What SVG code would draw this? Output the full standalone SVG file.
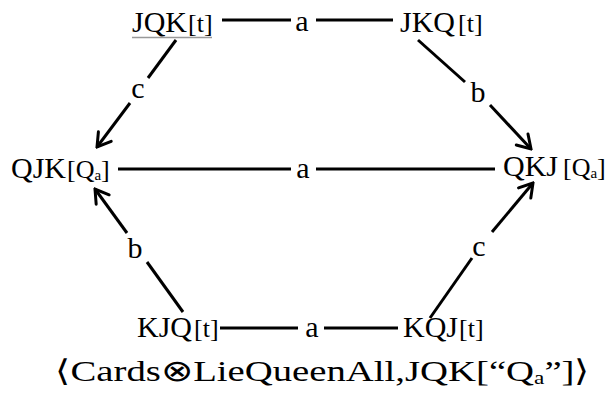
<svg xmlns="http://www.w3.org/2000/svg" width="609" height="395" viewBox="0 0 609 395">
<defs>
<style>
text{font-family:"Liberation Serif","Times New Roman",serif;fill:#000}
.n{font-size:30px}
.b{font-size:26px}
.s{font-size:15px}
.l{font-size:30px;text-anchor:middle}
.e{stroke:#000;stroke-width:3;fill:none}
</style>
<marker id="ah" viewBox="-16 -10 18 20" refX="0" refY="0" markerWidth="18" markerHeight="20" markerUnits="userSpaceOnUse" orient="auto">
<path d="M-13,-8 L0,0 L-13,8" stroke="#000" stroke-width="3" fill="none" stroke-linecap="round" stroke-linejoin="miter"/>
</marker>
</defs>
<rect width="609" height="395" fill="#fff"/>
<g id="connectors">
<line class="e" x1="222" y1="20" x2="291" y2="20"/>
<line class="e" x1="316" y1="20" x2="393" y2="20"/>
<text class="l" x="302" y="31">a</text>
<line class="e" x1="118" y1="169" x2="291" y2="169"/>
<line class="e" x1="316" y1="169" x2="495" y2="169"/>
<text class="l" x="303" y="178">a</text>
<line class="e" x1="220" y1="328" x2="298" y2="328"/>
<line class="e" x1="324" y1="328" x2="398" y2="328"/>
<text class="l" x="312" y="337">a</text>
<line class="e" x1="176" y1="40" x2="148" y2="78"/>
<line class="e" x1="130" y1="103" x2="97" y2="147" marker-end="url(#ah)"/>
<text class="l" x="138" y="98">c</text>
<line class="e" x1="418" y1="40" x2="465" y2="82"/>
<line class="e" x1="490" y1="105" x2="531" y2="149" marker-end="url(#ah)"/>
<text class="l" x="478" y="102">b</text>
<line class="e" x1="183" y1="312" x2="147" y2="262"/>
<line class="e" x1="127" y1="233" x2="95" y2="189" marker-end="url(#ah)"/>
<text class="l" x="135" y="258">b</text>
<line class="e" x1="430" y1="318" x2="472" y2="258"/>
<line class="e" x1="492" y1="232" x2="533" y2="183" marker-end="url(#ah)"/>
<text class="l" x="479" y="256">c</text>
</g>
<g id="n_jqk">
<text class="n" x="132" y="32">JQK</text>
<text class="b" x="188" y="32">[t]</text>
<line x1="132" y1="37.5" x2="212" y2="37.5" stroke="#999" stroke-width="1.5"/>
</g>
<g id="n_jkq">
<text class="n" x="400" y="32">JKQ</text>
<text class="b" x="458" y="32">[t]</text>
</g>
<g id="n_qjk">
<text class="n" x="11" y="178">QJK</text>
<text class="b" x="67" y="178">[Q<tspan class="s" dy="2">a</tspan><tspan dy="-2">]</tspan></text>
</g>
<g id="n_qkj">
<text class="n" x="503" y="176">QKJ</text>
<text class="b" x="563" y="176">[Q<tspan class="s" dy="2">a</tspan><tspan dy="-2">]</tspan></text>
</g>
<g id="n_kjq">
<text class="n" x="137" y="337">KJQ</text>
<text class="b" x="194" y="337">[t]</text>
</g>
<g id="n_kqj">
<text class="n" x="403" y="337">KQJ</text>
<text class="b" x="459" y="337">[t]</text>
</g>
<g id="caption">
<text x="55" y="381" font-size="30" textLength="535" lengthAdjust="spacingAndGlyphs">⟨Cards⊗LieQueenAll,JQK[“Q<tspan font-size="18" dy="3">a</tspan><tspan dy="-3">”]⟩</tspan></text>
</g>
</svg>
